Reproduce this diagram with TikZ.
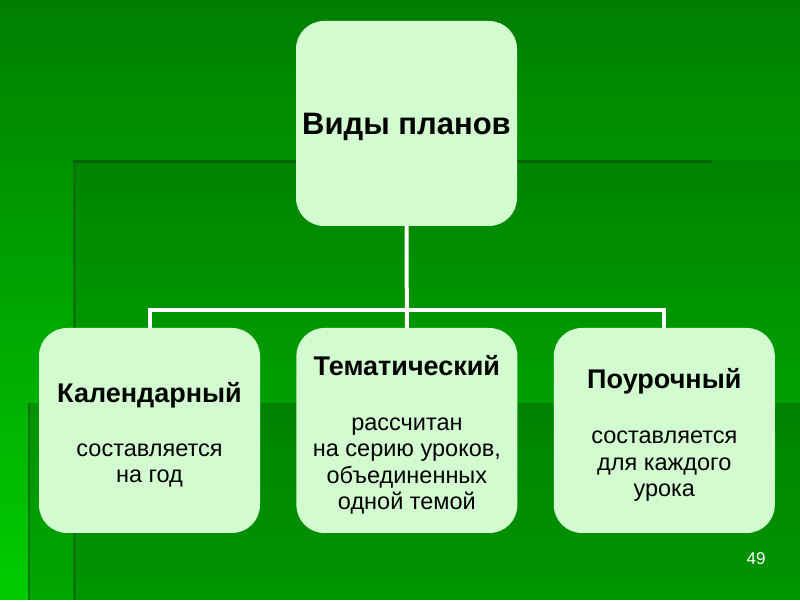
\documentclass[tikz,border=0pt]{standalone}
\usepackage{fontspec}
\setmainfont{Liberation Sans}
\usetikzlibrary{positioning,calc}
\definecolor{bgtop}{HTML}{007E00}
\definecolor{bgmid}{HTML}{00AE00}
\definecolor{bgbottom}{HTML}{00CC00}
\definecolor{boxfill}{HTML}{D2FBD0}
\definecolor{rimline}{HTML}{0A760A}
\definecolor{topline}{HTML}{006200}
\newcommand{\plantitle}[1]{{\fontsize{27}{30}\selectfont\bfseries\rule{0pt}{29pt}#1}}

\begin{document}
\begin{tikzpicture}[
  x=1pt, y=1pt,
  node distance=36pt,
  plan_box/.style={fill=boxfill, rounded corners=28pt, minimum width=221pt, minimum height=205pt, align=center, inner sep=0pt, font=\fontsize{23.5}{26.5}\selectfont},
  head_box/.style={plan_box, font=\fontsize{31}{36}\selectfont\bfseries},
  link/.style={draw=white, line width=4pt},
  pagenum/.style={text=white, font=\fontsize{17}{20}\selectfont},
]
  % background of the slide
  \shade[top color=bgtop, middle color=bgmid, bottom color=bgbottom] (0,0) rectangle (800,600);
  \fill[black, opacity=0.1] (73,0) rectangle (800,440);
  \fill[black, opacity=0.18] (28,0) rectangle (800,197);
  \draw[rimline, line width=3pt] (74.5,0) -- (74.5,440);
  \draw[rimline, line width=2pt] (29,0) -- (29,197);
  \draw[topline, line width=3pt] (73,438.5) -- (712,438.5);
  \useasboundingbox (0,0) rectangle (800,600);

  \node[head_box, text depth=0pt] (plans) at (406.5,476.5) {Виды планов};
  \node[plan_box]               (kal)   at (149.5,169.5) {\plantitle{Календарный}\\[27pt]составляется\\на год};
  \node[plan_box, right=of kal] (tem)   {\plantitle{Тематический}\\[28pt]рассчитан\\на серию уроков,\\объединенных\\одной темой};
  \node[plan_box, right=of tem] (pour)  {\plantitle{Поурочный}\\[29pt]составляется\\для каждого\\урока};

  \coordinate (fork) at ($(plans.south)+(0,-84)$);
  \draw[link] (plans.south) -- (tem.north);
  \draw[link] (kal.north) |- (fork) -| (pour.north);

  \node[pagenum] (num) at (756,41) {49};
\end{tikzpicture}
\end{document}
